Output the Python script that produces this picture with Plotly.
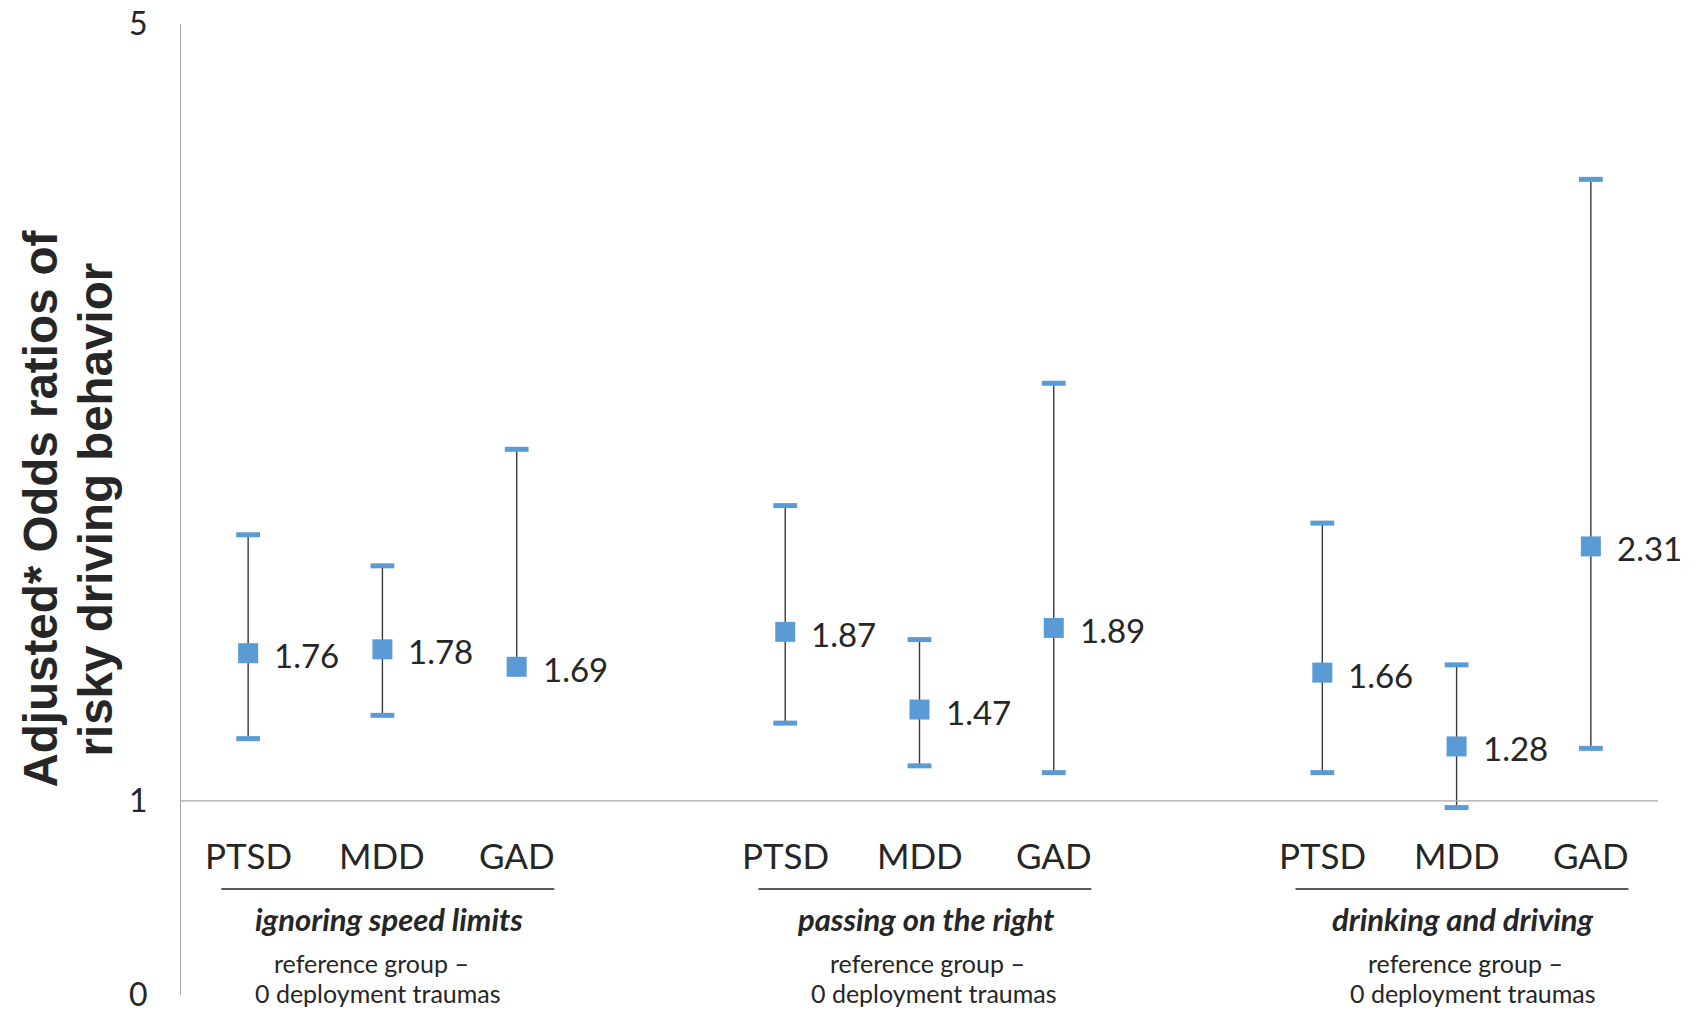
import plotly.graph_objects as go

# ---- data ----
groups = ["ignoring speed limits", "passing on the right", "drinking and driving"]
conditions = ["PTSD", "MDD", "GAD"]
odds_ratio = [1.76, 1.78, 1.69, 1.87, 1.47, 1.89, 1.66, 1.28, 2.31]
ci_upper = [2.37, 2.21, 2.81, 2.52, 1.83, 3.15, 2.43, 1.70, 4.20]
ci_lower = [1.32, 1.44, None, 1.40, 1.18, 1.145, 1.145, 0.965, 1.27]
reference_note = ["reference group –", "0 deployment traumas"]
y_ticks = [0, 1, 5]
y_title_lines = ["Adjusted* Odds ratios of", "risky driving behavior"]

# ---- style ----
BLUE = "#5B9BD5"
TEXT = "#262626"
AXIS = "#A6A6A6"
FONT = "Lato"

# x positions: three groups of three, one empty slot between groups
x_pos, labels = [], []
for g, _ in enumerate(groups):
    for j, c in enumerate(conditions):
        x_pos.append(g * 4 + j)
        labels.append(c)

err_plus = [u - v for u, v in zip(ci_upper, odds_ratio)]
err_minus = [(v - l) if l is not None else 0 for l, v in zip(ci_lower, odds_ratio)]

fig = go.Figure()

fig.add_trace(go.Scatter(
    x=x_pos, y=odds_ratio, mode="markers",
    marker=dict(symbol="square", size=20, color=BLUE),
    error_y=dict(type="data", array=err_plus, arrayminus=err_minus,
                 color="#3A3A3A", thickness=1.4, width=0, symmetric=False),
    showlegend=False, hoverinfo="skip",
))

cap_style = dict(symbol="line-ew", size=17, color=BLUE, line=dict(width=5, color=BLUE))
fig.add_trace(go.Scatter(
    x=x_pos, y=ci_upper, mode="markers", marker=cap_style,
    showlegend=False, hoverinfo="skip"))
low_x = [x for x, l in zip(x_pos, ci_lower) if l is not None]
low_y = [l for l in ci_lower if l is not None]
fig.add_trace(go.Scatter(
    x=low_x, y=low_y, mode="markers", marker=cap_style,
    showlegend=False, hoverinfo="skip"))

annotations = []
shapes = []
# data labels
for x, v in zip(x_pos, odds_ratio):
    annotations.append(dict(x=x, y=v, xref="x", yref="y", text=f"{v:.2f}", showarrow=False,
                            xanchor="left", yanchor="middle", xshift=24, yshift=-2,
                            font=dict(family=FONT, size=33, color=TEXT)))
# baseline at odds ratio 1
shapes.append(dict(type="line", xref="paper", x0=0, x1=1, yref="y", y0=1, y1=1,
                   line=dict(color=AXIS, width=1.3)))
for x, lab in zip(x_pos, labels):
    annotations.append(dict(x=x, y=0.72, xref="x", yref="y", text=lab, showarrow=False,
                            font=dict(family=FONT, size=35, color=TEXT)))
ref_offsets = [-0.08, 0.06, 0.07]
for g, name in enumerate(groups):
    base = g * 4
    shapes.append(dict(type="line", xref="x", yref="y", x0=base - 0.2, x1=base + 2.28,
                       y0=0.546, y1=0.546, line=dict(color=TEXT, width=1.5)))
    annotations.append(dict(x=base + 1.05, y=0.39, xref="x", yref="y",
                            text=f"<b><i>{name}</i></b>", showarrow=False,
                            font=dict(family=FONT, size=31, color=TEXT)))
    for k, line in enumerate(reference_note):
        annotations.append(dict(x=base + 1 + ref_offsets[g] + 0.05 * k, y=0.165 - 0.155 * k,
                                xref="x", yref="y", text=line, showarrow=False,
                                font=dict(family=FONT, size=25, color=TEXT)))

for i, line in enumerate(y_title_lines):
    annotations.append(dict(x=0, y=0.5, xref="paper", yref="paper", text=f"<b>{line}</b>",
                            textangle=-90, showarrow=False, xanchor="center", yanchor="middle",
                            xshift=-141 + i * 55, yshift=0,
                            font=dict(family="Liberation Sans", size=47.5, color=TEXT)))

fig.update_layout(
    width=1688, height=1002,
    margin=dict(l=173, r=38, t=16, b=15, autoexpand=False),
    plot_bgcolor="white", paper_bgcolor="white",
    xaxis=dict(range=[-0.5, 10.5], visible=False, automargin=False),
    yaxis=dict(range=[0, 5], tickvals=y_ticks, ticktext=[str(t) for t in y_ticks],
               showgrid=False, zeroline=False, showline=True, linecolor=AXIS, linewidth=1.3,
               ticks="", ticklabelstandoff=26, ticklabeloverflow="allow", automargin=False,
               tickfont=dict(family=FONT, size=32, color=TEXT)),
    annotations=annotations, shapes=shapes,
)

fig.write_html("out.html")
